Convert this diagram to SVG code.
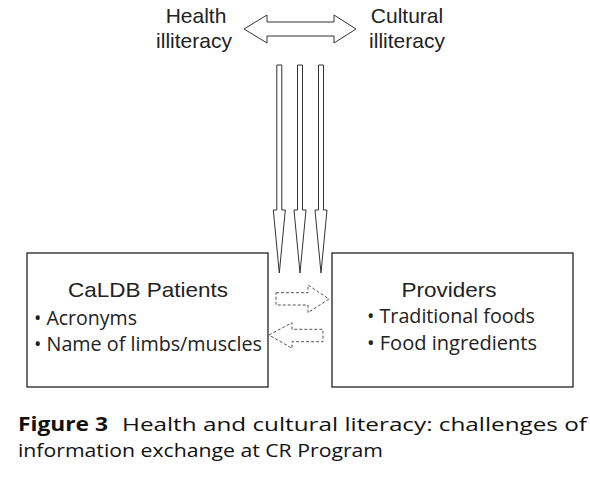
<svg xmlns="http://www.w3.org/2000/svg" width="590" height="479" viewBox="0 0 590 479">
<style>
.box{fill:#fff;stroke:#222;stroke-width:1.3}
.arw{fill:#fff;stroke:#333;stroke-width:1;stroke-linejoin:miter}
.dash{fill:#fff;stroke:#555;stroke-width:1;stroke-dasharray:3 2}
.hel{font-family:"Liberation Sans",Arial,sans-serif;font-size:21px;fill:#222}
.myr{font-family:"Open Sans","Noto Sans",sans-serif;font-size:20px;fill:#222}
.cap{font-family:"Open Sans","Noto Sans",sans-serif;font-size:19px;fill:#111}
</style>
<rect width="590" height="479" fill="#fff"/>
<g id="health-illiteracy">
<text class="hel" x="196" y="23" text-anchor="middle">Health</text>
<text class="hel" x="194" y="48" text-anchor="middle">illiteracy</text>
</g>
<g id="cultural-illiteracy">
<text class="hel" x="407" y="23" text-anchor="middle">Cultural</text>
<text class="hel" x="407" y="48" text-anchor="middle">illiteracy</text>
</g>
<g id="patients">
<rect class="box" x="27" y="253" width="241" height="134"/>
<text class="hel" x="148" y="297" text-anchor="middle" textLength="160" lengthAdjust="spacingAndGlyphs">CaLDB Patients</text>
<text class="myr" x="34" y="325" textLength="103" lengthAdjust="spacingAndGlyphs">• Acronyms</text>
<text class="myr" x="34" y="351" textLength="228" lengthAdjust="spacingAndGlyphs">• Name of limbs/muscles</text>
</g>
<g id="providers">
<rect class="box" x="332" y="253" width="241" height="134"/>
<text class="hel" x="449" y="297" text-anchor="middle" textLength="95" lengthAdjust="spacingAndGlyphs">Providers</text>
<text class="myr" x="367" y="323" textLength="168" lengthAdjust="spacingAndGlyphs">• Traditional foods</text>
<text class="myr" x="367" y="350" textLength="170" lengthAdjust="spacingAndGlyphs">• Food ingredients</text>
</g>
<g id="connectors">
<polygon class="arw" points="244,29 267,15 267,22 334,22 334,15 356,29 334,43 334,36 267,36 267,43"/>
<polygon class="arw" points="276.8,65 281.8,65 281.8,210 285.3,210 279.3,273 273.3,210 276.8,210"/>
<polygon class="arw" points="297.5,65 302.5,65 302.5,210 306,210 300,273 294,210 297.5,210"/>
<polygon class="arw" points="318.5,65 323.5,65 323.5,210 327,210 321,273 315,210 318.5,210"/>
<polygon class="dash" points="276,292.7 308,292.7 308,285 329,299 308,312.7 308,305 276,305"/>
<polygon class="dash" points="269,335 292,322.7 292,329.3 323,329.3 323,341.7 292,341.7 292,348.3"/>
</g>
<g id="caption">
<text class="cap" x="18" y="431" font-weight="bold" textLength="90" lengthAdjust="spacingAndGlyphs">Figure 3</text>
<text class="cap" x="122" y="431" textLength="465" lengthAdjust="spacingAndGlyphs">Health and cultural literacy: challenges of</text>
<text class="cap" x="18" y="457" textLength="365" lengthAdjust="spacingAndGlyphs">information exchange at CR Program</text>
</g>
</svg>
